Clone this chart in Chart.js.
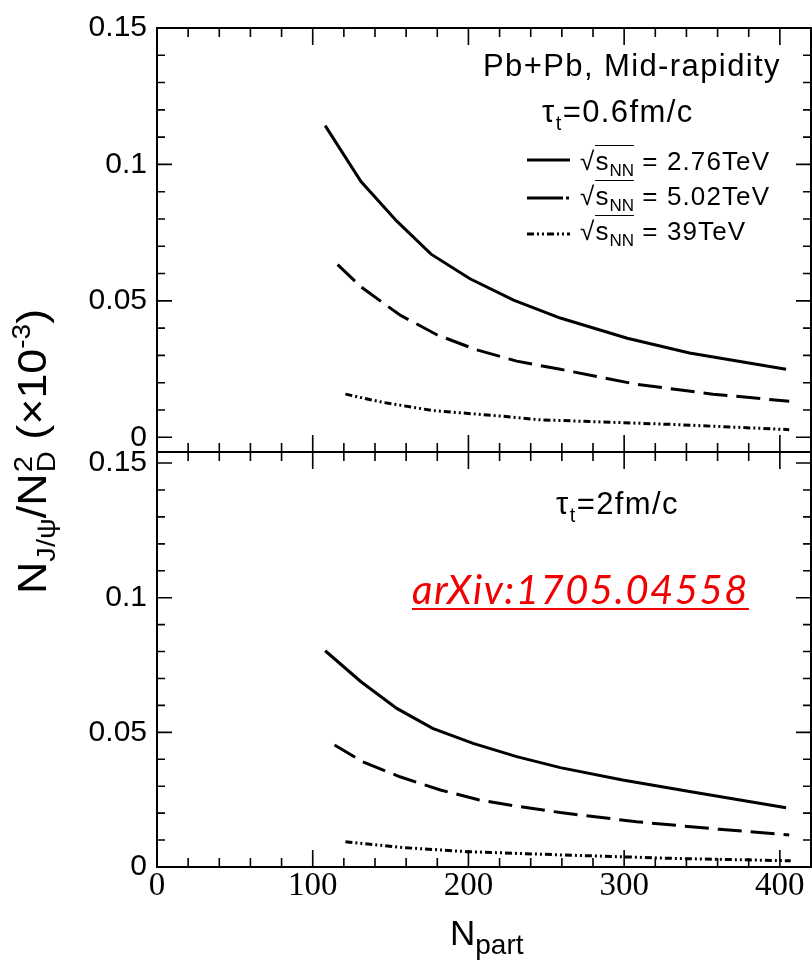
<!DOCTYPE html>
<html><head><meta charset="utf-8">
<script src="https://cdn.jsdelivr.net/npm/chart.js@4.4.1/dist/chart.umd.min.js"></script>
<style>
html,body{margin:0;padding:0;background:#fff;}
#wrap{position:relative;width:812px;height:960px;overflow:hidden;background:#fff;}
canvas{position:absolute;left:0;top:0;}
.t{position:absolute;white-space:nowrap;font-family:"Liberation Sans",Arial,sans-serif;color:#000;line-height:1.2;}
.bl{display:inline-block;width:0;height:0;}
.lo{position:relative;line-height:0;}
.ov{border-top:1.5px solid #000;}
</style></head><body>
<div id="wrap">
<canvas id="c1" width="812" height="960" style="width:812px;height:960px"></canvas>
<canvas id="c2" width="812" height="960" style="width:812px;height:960px"></canvas>
</div>
<script>
// ---------------- data ----------------
// top panel: tau_t = 0.6 fm/c
const topSolidX = [108, 131, 154, 176, 201, 229, 259, 302, 342, 404];
const topSolidY = [0.1142, 0.0937, 0.0792, 0.0671, 0.0581, 0.0503, 0.0437, 0.0363, 0.0309, 0.0249];
const topDashX  = [116, 131, 156, 180, 205, 231, 259, 308, 357, 406];
const topDashY  = [0.0633, 0.0551, 0.0448, 0.0375, 0.0321, 0.0279, 0.0249, 0.0194, 0.0158, 0.0132];
const topDotX   = [121, 145, 177, 220, 246, 331, 406];
const topDotY   = [0.0158, 0.0128, 0.0098, 0.0078, 0.0064, 0.0047, 0.0028];
// bottom panel: tau_t = 2 fm/c
const botSolidX = [108, 131, 154, 177, 203, 231, 259, 299, 342, 404];
const botSolidY = [0.0803, 0.0688, 0.0589, 0.0515, 0.0459, 0.0410, 0.0369, 0.0323, 0.0280, 0.0220];
const botDashX  = [114, 132, 156, 182, 207, 233, 259, 308, 361, 406];
const botDashY  = [0.0453, 0.0391, 0.0335, 0.0286, 0.0249, 0.0224, 0.0202, 0.0168, 0.0140, 0.0119];
const botDotX   = [121, 156, 199, 259, 331, 407];
const botDotY   = [0.0094, 0.0073, 0.0057, 0.0045, 0.0032, 0.0023];
// axes
const xTickValues = [0, 100, 200, 300, 400];
const yTickValues = [0, 0.05, 0.1, 0.15];
const xRange = [0, 420];
const topYRange = [-0.0054, 0.15];
const botYRange = [0, 0.1541];
const seriesLabels = ['2.76TeV', '5.02TeV', '39TeV'];

const X_MINOR = 20, Y_MINOR = 0.01;
const DASHES = [[], [24, 9], [7, 3, 2, 3, 2, 3]];

function ds(xs, ys, i) {
  return {
    label: seriesLabels[i],
    data: xs.map((x, k) => ({x: x, y: ys[k]})),
    borderColor: '#000', borderWidth: 3, borderDash: DASHES[i],
    pointRadius: 0, fill: false, tension: 0, borderCapStyle: 'butt'
  };
}
function fmt(v) { return String(+Number(v).toFixed(2)); }

const frameTicks = {
  id: 'frameTicks',
  afterDatasetsDraw(chart, args, o) {
    const ctx = chart.ctx, a = chart.chartArea, xs = chart.scales.x, ys = chart.scales.y;
    ctx.save();
    ctx.setLineDash([]);
    ctx.strokeStyle = '#000';
    ctx.lineWidth = 1.6;
    ctx.beginPath();
    for (let k = 0; k * Y_MINOR <= ys.max + 1e-9; k++) {
      const v = k * Y_MINOR;
      if (v < ys.min) continue;
      const p = ys.getPixelForValue(v);
      const L = (k % 5 === 0) ? 15 : 8;
      ctx.moveTo(a.left, p); ctx.lineTo(a.left + L, p);
      ctx.moveTo(a.right, p); ctx.lineTo(a.right - L, p);
    }
    for (let k = 0; k * X_MINOR <= xs.max; k++) {
      const p = xs.getPixelForValue(k * X_MINOR);
      const L = (k % 5 === 0) ? 17 : 9;
      ctx.moveTo(p, a.top); ctx.lineTo(p, a.top + L);
      ctx.moveTo(p, a.bottom); ctx.lineTo(p, a.bottom - L);
    }
    ctx.stroke();
    ctx.lineWidth = 2;
    ctx.strokeRect(a.left, a.top, a.width, a.height);
    if (o && o.legend) {
      ctx.lineWidth = 3;
      const rows = [160, 198, 234];
      // legend samples
      ctx.setLineDash([]);
      ctx.beginPath(); ctx.moveTo(527, rows[0]); ctx.lineTo(570, rows[0]); ctx.stroke();
      ctx.beginPath(); ctx.moveTo(527, rows[1]); ctx.lineTo(563, rows[1]); ctx.moveTo(566, rows[1]); ctx.lineTo(569, rows[1]); ctx.stroke();
      ctx.setLineDash(DASHES[2]);
      ctx.beginPath(); ctx.moveTo(527, rows[2]); ctx.lineTo(570, rows[2]); ctx.stroke();
    }
    ctx.restore();
  }
};

function yScale(range) {
  return {
    type: 'linear', position: 'left', min: range[0], max: range[1],
    afterFit: s => { s.width = 157; },
    afterBuildTicks: s => { s.ticks = yTickValues.filter(v => v >= s.min && v <= s.max).map(v => ({value: v})); },
    grid: {display: false, drawTicks: false}, border: {display: false},
    ticks: {padding: 10, color: '#000', font: {family: 'Liberation Sans', size: 30}, callback: v => fmt(v)}
  };
}

const baseOpts = {responsive: false, animation: false, devicePixelRatio: 1, events: []};

new Chart(document.getElementById('c1'), {
  type: 'line',
  data: {datasets: [ds(topSolidX, topSolidY, 0), ds(topDashX, topDashY, 1), ds(topDotX, topDotY, 2)]},
  options: Object.assign({}, baseOpts, {
    layout: {padding: {left: 0, right: 1, top: 23, bottom: 508}},
    plugins: {legend: {display: false}, tooltip: {enabled: false}, frameTicks: {legend: true}},
    scales: {
      x: {type: 'linear', min: xRange[0], max: xRange[1], display: false},
      y: yScale(topYRange)
    }
  }),
  plugins: [frameTicks]
});

new Chart(document.getElementById('c2'), {
  type: 'line',
  data: {datasets: [ds(botSolidX, botSolidY, 0), ds(botDashX, botDashY, 1), ds(botDotX, botDotY, 2)]},
  options: Object.assign({}, baseOpts, {
    layout: {padding: {left: 0, right: 1, top: 452, bottom: 0}},
    plugins: {legend: {display: false}, tooltip: {enabled: false}, frameTicks: {legend: false}},
    scales: {
      x: {
        type: 'linear', position: 'bottom', min: xRange[0], max: xRange[1],
        afterFit: s => { s.height = 93; },
        afterBuildTicks: s => { s.ticks = xTickValues.map(v => ({value: v})); },
        grid: {display: false, drawTicks: false}, border: {display: false},
        ticks: {padding: 0, color: '#000', maxRotation: 0, autoSkip: false,
                font: {family: 'Liberation Serif', size: 33}, callback: v => String(v)}
      },
      y: yScale(botYRange)
    }
  }),
  plugins: [frameTicks]
});

// ---------------- text ----------------
const wrap = document.getElementById('wrap');
function place(html, x, baseline, style) {
  const d = document.createElement('div');
  d.className = 't';
  d.style.cssText = style || '';
  d.innerHTML = '<span class="bl"></span>' + html;
  wrap.appendChild(d);
  d.style.left = x + 'px';
  d.style.top = '0px';
  const off = d.querySelector('.bl').offsetTop;
  d.style.top = (baseline - off) + 'px';
  return {d: d, off: off};
}
const big = 'font-size:31px;letter-spacing:1.4px;';
place('Pb+Pb, Mid-rapidity', 483, 76, big);
place('τ<span class="lo" style="font-size:20px;top:8px">t</span>=0.6fm/c', 542, 122, big);
const leg = 'font-size:26px;letter-spacing:1.1px;';
const sq = '√<span class="ov">s<span class="lo" style="font-size:17px;top:6px;letter-spacing:0">NN</span></span>';
place(sq + ' = 2.76TeV', 580, 170, leg);
place(sq + ' = 5.02TeV', 580, 205, leg);
place(sq + ' = 39TeV', 580, 240, leg);
place('τ<span class="lo" style="font-size:20px;top:8px">t</span>=2fm/c', 556, 514, big);
place('arXiv:1705.04558', 412, 604,
  'font-family:Lato,"Open Sans",sans-serif;font-style:italic;font-size:40px;letter-spacing:1.5px;color:#f00000;text-decoration:underline;text-decoration-thickness:2px;text-underline-offset:4px;');
place('N<span class="lo" style="font-size:28px;top:9px">part</span>', 450, 945, 'font-size:35px;');

// rotated y-axis title: text starts at the bottom and reads upward
const ytHtml = 'N<span class="lo" style="font-size:26px;top:9px">J/ψ</span>/N' +
  '<span style="display:inline-block;position:relative;width:19px;height:0;font-size:26px;line-height:0">' +
  '<span style="position:absolute;left:1px;top:-23px;line-height:0">2</span>' +
  '<span style="position:absolute;left:1px;top:0px;line-height:0">D</span></span>' +
  ' (×10<span class="lo" style="font-size:25px;top:-16px">-3</span>)';
const yt = place(ytHtml, 0, 0, 'font-size:40px;transform-origin:0 0;');
yt.d.style.top = '594px';
yt.d.style.left = (46 - yt.off) + 'px';
yt.d.style.transform = 'rotate(-90deg) scaleX(1.12)';
</script>
</body></html>
